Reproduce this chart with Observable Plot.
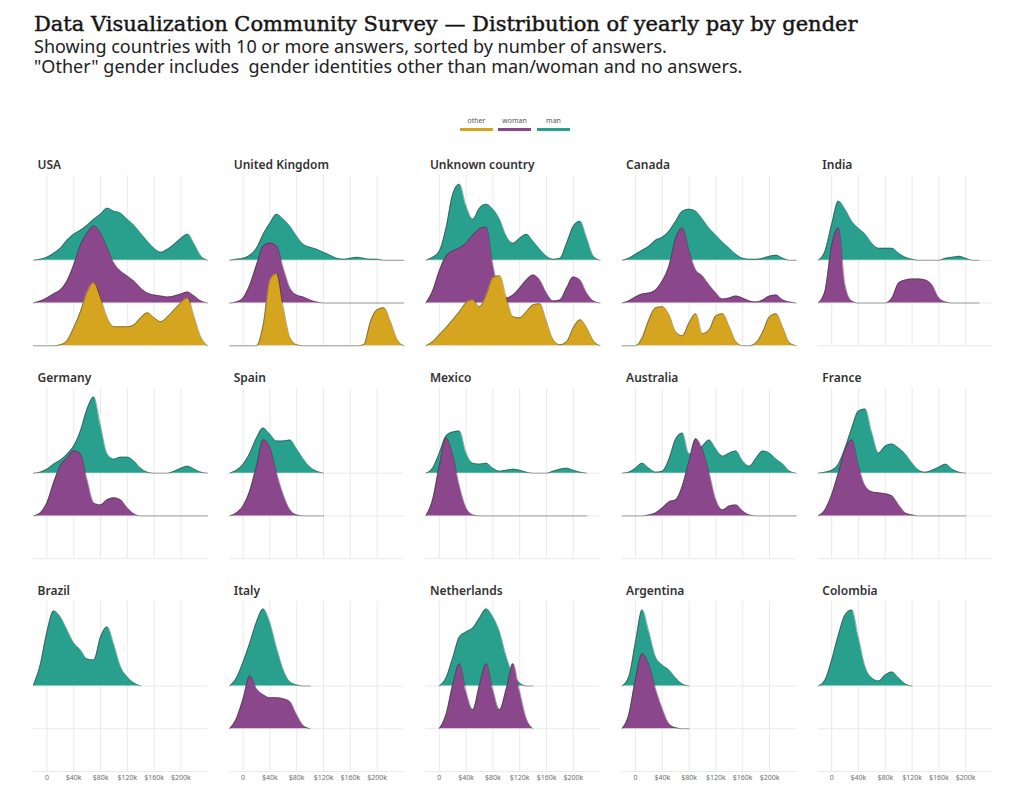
<!DOCTYPE html>
<html><head><meta charset="utf-8">
<script src="https://cdn.jsdelivr.net/npm/d3@7"></script>
<script src="https://cdn.jsdelivr.net/npm/@observablehq/plot@0.6"></script>
<style>
body{margin:0;background:#fff;width:1024px;height:796px;overflow:hidden;position:relative;font-family:"Noto Sans",sans-serif}
#title{position:absolute;left:34px;top:13px;font:21px/22px "DejaVu Serif",serif;color:#151515;white-space:nowrap;-webkit-text-stroke:0.45px #151515}
.sub{position:absolute;left:34px;font:18px/18px "Noto Sans",sans-serif;color:#222;white-space:nowrap}
.li{position:absolute;top:116px;width:33px;text-align:center;font:7px/9px "Noto Sans",sans-serif;color:#555}
.li span{display:block;height:3px;margin-top:3px}
#chart{position:absolute;left:0;top:140px}
</style></head><body>
<div id="title">Data Visualization Community Survey — Distribution of yearly pay by gender</div>
<div class="sub" style="top:36.5px">Showing countries with 10 or more answers, sorted by number of answers.</div>
<div class="sub" style="top:57px">"Other" gender includes&nbsp; gender identities other than man/woman and no answers.</div>
<div id="legend"></div>
<div id="chart"></div>
<script>
// Pay grid (thousands of USD) at which each density height was read
const payK = [-20,-10,0,10,20,30,40,50,60,70,80,90,100,110,120,130,140,150,160,170,180,190,200,210,220,230,240];

const countries = ["USA","United Kingdom","Unknown country","Canada","India","Germany","Spain","Mexico","Australia","France","Brazil","Italy","Netherlands","Argentina","Colombia"];
const genders = ["other","woman","man"];
const genderColors = ["#d5a520","#8b478b","#29a08d"];
const tickValues = [0,40000,80000,120000,160000,200000];
const tickLabels = ["0","$40k","$80k","$120k","$160k","$200k"];

// density heights (scaled) per country & gender, on payK grid; null = outside data range
const usaMan   = [0,1,3,7,12,20,26,30,35,41,46,52,49,47,41,35,27,19,12,8,11,16,22,26,16,4,0];
const usaWoman = [0,2,5,9,13,22,38,58,70,77,70,55,40,32,27,22,15,10,8,7,6,7,9,11,7,2,0];
const usaOther = [0,0,0,0,1,5,18,34,54,63,48,28,19,19,19,21,28,33,28,24,29,36,43,48,28,8,0];
const ukMan    = [0,1,2,5,12,26,37,46,41,34,24,16,13,11,8,5,2,1,2,3,2,1,1,0,0,0,0];
const ukWoman  = [0,1,5,18,38,57,60,57,35,15,8,6,3,1,0,0,0,0,0,0,0,0,0,0,0,0,0];
const ukOther  = [0,0,0,0,0,21,66,72,38,8,1,0,0,0,0,0,0,0,0,0,1,24,36,38,24,6,0];
const unkMan   = [0,3,9,32,66,76,54,41,52,56,51,41,24,17,22,26,19,11,4,1,2,17,34,39,22,4,0];
const unkWoman = [0,12,32,47,52,55,60,68,74,76,38,12,5,8,15,23,28,23,10,2,3,15,26,23,10,2,0];
const unkOther = [0,4,11,18,26,34,43,46,39,51,68,70,48,29,28,34,41,42,24,6,1,4,18,26,18,5,0];
const canMan   = [0,2,6,10,14,20,23,29,39,49,51,49,41,32,25,18,12,6,2,1,1,2,4,5,2,0,0];
const canWoman = [0,2,6,9,10,13,22,37,65,75,52,33,27,18,10,4,5,7,5,2,1,3,7,8,3,1,0];
const canOther = [0,0,0,8,26,38,39,31,14,10,23,32,12,16,30,32,19,4,0,0,3,14,29,32,18,3,0];
const indMan   = [0,9,36,59,51,39,32,26,17,12,12,12,7,3,1,0,0,0,0,2,3,4,2,0,0,null,null];
const indWoman = [0,12,58,75,18,2,0,0,0,0,0,5,20,23,24,24,23,18,5,1,0,0,0,0,0,null,null];
const gerMan   = [0,1,4,9,13,19,27,42,64,76,47,19,14,16,16,12,5,1,0,0,0,2,5,7,4,1,0];
const gerWoman = [0,3,13,33,50,58,65,62,36,13,11,16,18,16,8,2,0,0,0,0,0,0,0,0,0,0,0];
const spaMan   = [0,3,9,20,35,45,39,32,32,33,24,14,6,2,0,null,null,null,null,null,null,null,null,null,null,null,null];
const spaWoman = [0,3,10,25,50,76,68,43,21,6,1,0,0,0,0,null,null,null,null,null,null,null,null,null,null,null,null];
const mexMan   = [0,5,20,37,41,42,20,10,9,10,5,2,3,4,3,1,0,0,0,2,4,5,3,1,0,null,null];
const mexWoman = [0,16,50,78,61,30,8,1,0,0,0,0,0,0,0,0,0,0,0,0,0,0,0,0,0,null,null];
const ausMan   = [0,1,5,10,5,1,2,14,34,40,19,20,27,33,24,17,20,22,12,7,15,22,20,14,9,2,0];
const ausWoman = [0,0,0,0,1,3,8,14,16,30,55,77,66,43,16,6,10,11,5,1,0,0,0,0,0,0,0];
const fraMan   = [0,1,3,9,25,45,62,64,40,20,27,29,25,19,10,3,1,3,6,9,4,1,0,null,null,null,null];
const fraWoman = [0,6,21,43,66,76,50,30,24,23,22,20,11,3,1,0,0,0,0,0,0,0,0,null,null,null,null];
const braMan   = [1,21,54,75,69,56,43,36,27,26,49,59,41,19,9,3,0,null,null,null,null,null,null,null,null,null,null];
const itaMan   = [0,8,24,43,64,77,63,38,16,4,1,0,0,null,null,null,null,null,null,null,null,null,null,null,null,null,null];
const itaWoman = [0,10,30,53,40,34,31,31,30,27,14,3,0,null,null,null,null,null,null,null,null,null,null,null,null,null,null];
const nedMan   = [null,null,0,8,28,49,54,58,68,77,69,54,29,11,3,0,0,null,null,null,null,null,null,null,null,null,null];
const nedWoman = [null,null,0,14,44,65,37,19,44,65,39,19,40,65,37,10,0,null,null,null,null,null,null,null,null,null,null];
const argMan   = [0,9,44,76,54,29,21,16,8,2,0,null,null,null,null,null,null,null,null,null,null,null,null,null,null,null,null];
const argWoman = [0,14,50,75,64,40,20,5,1,0,0,null,null,null,null,null,null,null,null,null,null,null,null,null,null,null,null];
const colMan   = [0,6,26,51,71,76,48,19,8,5,11,14,8,2,0,null,null,null,null,null,null,null,null,null,null,null,null];

const seriesTable = [
  ["USA","man",usaMan],["USA","woman",usaWoman],["USA","other",usaOther],
  ["United Kingdom","man",ukMan],["United Kingdom","woman",ukWoman],["United Kingdom","other",ukOther],
  ["Unknown country","man",unkMan],["Unknown country","woman",unkWoman],["Unknown country","other",unkOther],
  ["Canada","man",canMan],["Canada","woman",canWoman],["Canada","other",canOther],
  ["India","man",indMan],["India","woman",indWoman],
  ["Germany","man",gerMan],["Germany","woman",gerWoman],
  ["Spain","man",spaMan],["Spain","woman",spaWoman],
  ["Mexico","man",mexMan],["Mexico","woman",mexWoman],
  ["Australia","man",ausMan],["Australia","woman",ausWoman],
  ["France","man",fraMan],["France","woman",fraWoman],
  ["Brazil","man",braMan],
  ["Italy","man",itaMan],["Italy","woman",itaWoman],
  ["Netherlands","man",nedMan],["Netherlands","woman",nedWoman],
  ["Argentina","man",argMan],["Argentina","woman",argWoman],
  ["Colombia","man",colMan]
];

const ridgeStep = 42.67; // vertical distance between gender ridges (y units)
const ridgeBases = genders.map((g, i) => i * ridgeStep);

const points = [];
for (const [country, gender, values] of seriesTable) {
  const idx = countries.indexOf(country);
  const base = ridgeBases[genders.indexOf(gender)];
  values.forEach((v, i) => {
    if (v == null) return;
    points.push({country, gender, key: country + "|" + gender,
      col: idx % 5, row: Math.floor(idx / 5), x: payK[i] * 1000, y1: base, y2: base + v});
  });
}

const ridgeMarks = [];
["man","woman","other"].forEach(g => {
  const data = points.filter(p => p.gender === g);
  const color = genderColors[genders.indexOf(g)];
  ridgeMarks.push(Plot.areaY(data, {x: "x", y1: "y1", y2: "y2", z: "key", fx: "col", fy: "row",
    fill: color, curve: "monotone-x"}));
  ridgeMarks.push(Plot.lineY(data, {x: "x", y: "y2", z: "key", fx: "col", fy: "row",
    stroke: "#2a2a2a", strokeWidth: 0.6, strokeOpacity: 0.7, curve: "monotone-x"}));
});

const chart = Plot.plot({
  width: 1024, height: 651,
  marginLeft: 33, marginRight: 32, marginTop: 35, marginBottom: 20,
  style: {fontFamily: "Noto Sans, sans-serif", background: "white"},
  x: {domain: [-20000, 240000]},
  y: {domain: [0, 170], axis: null},
  fx: {domain: [0,1,2,3,4], paddingInner: 0.112, paddingOuter: 0, axis: null, round: false},
  fy: {domain: [0,1,2], paddingInner: 0.2, paddingOuter: 0, axis: null, round: false},
  marks: [
    Plot.gridX(tickValues, {stroke: "#e4e4e4", strokeOpacity: 1, strokeWidth: 0.8}),
    Plot.ruleY(ridgeBases, {stroke: "#e4e4e4", strokeWidth: 0.8}),
    ...ridgeMarks,
    Plot.text(countries, {fx: (d, i) => i % 5, fy: (d, i) => Math.floor(i / 5), text: d => d,
      frameAnchor: "top-left", dx: 4, dy: -10, lineAnchor: "middle", textAnchor: "start",
      fontSize: 12, fontWeight: 600, fill: "#333"}),
    Plot.axisX(tickValues, {tickSize: 0, tickPadding: 4, fontSize: 7, color: "#6e6e6e", label: null,
      tickFormat: d => tickLabels[tickValues.indexOf(d)]})
  ]
});
document.getElementById("chart").appendChild(chart);

// legend
const legendLeft = [460, 498, 537];
const legend = document.getElementById("legend");
genders.forEach((g, i) => {
  const el = document.createElement("div");
  el.className = "li";
  el.style.left = legendLeft[i] + "px";
  el.innerHTML = g + '<span style="background:' + genderColors[i] + '"></span>';
  legend.appendChild(el);
});
</script>
</body></html>
